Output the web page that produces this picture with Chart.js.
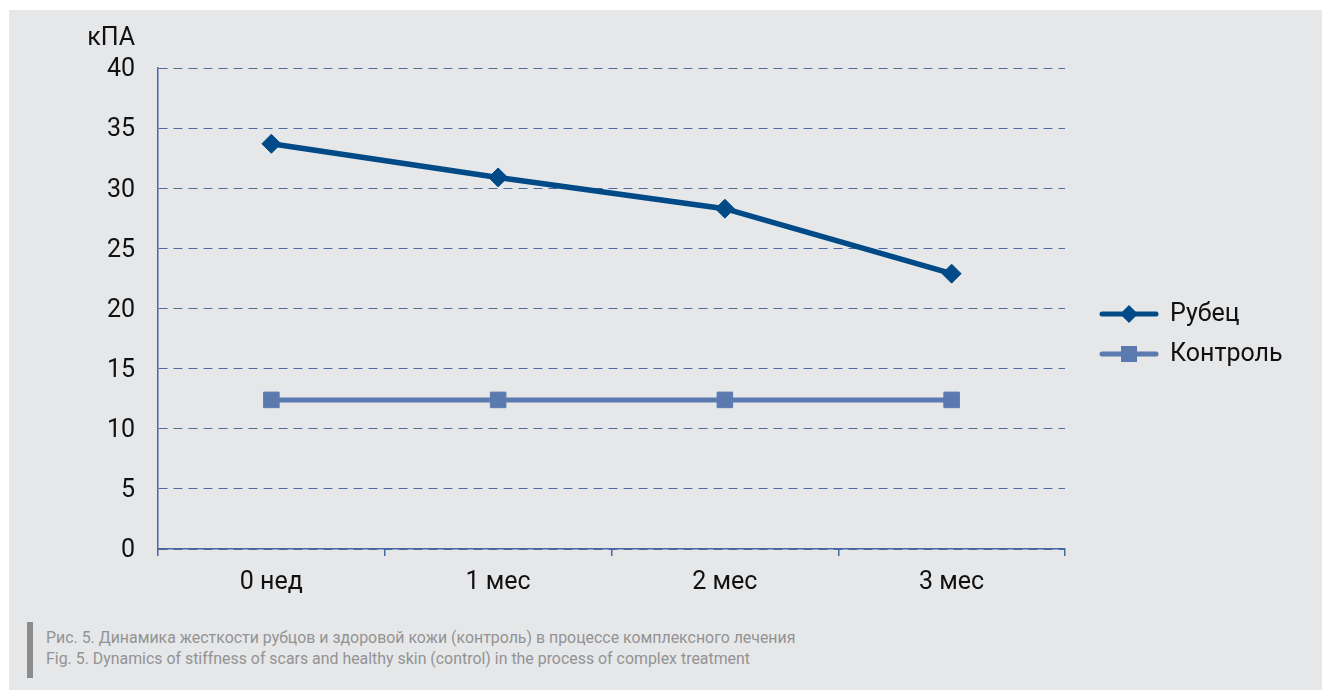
<!DOCTYPE html>
<html>
<head>
<meta charset="utf-8">
<script src="https://cdn.jsdelivr.net/npm/chart.js@4/dist/chart.umd.min.js"></script>
<style>
  html, body { margin: 0; padding: 0; background: #ffffff; width: 1322px; height: 690px; overflow: hidden; }
  #panel { position: absolute; left: 9px; top: 10px; width: 1313px; height: 680px; background: #e6e7e9; }
  #wrap { position: absolute; left: 0; top: 0; width: 1322px; height: 600px; }
  #bar { position: absolute; left: 27px; top: 622px; width: 6px; height: 56px; background: #8c8c8c; }
  #caption { position: absolute; left: 46px; top: 627px; transform: scaleX(0.935); transform-origin: 0 0;
    font-family: 'Roboto', sans-serif; font-size: 17px; line-height: 21px; color: #939393; white-space: nowrap; }
</style>
</head>
<body>
<div id="panel"></div>
<div id="wrap"><canvas id="c" width="1322" height="600"></canvas></div>
<div id="bar"></div>
<div id="caption">
  <div>Рис. 5. Динамика жесткости рубцов и здоровой кожи (контроль) в процессе комплексного лечения</div>
  <div>Fig. 5. Dynamics of stiffness of scars and healthy skin (control) in the process of complex treatment</div>
</div>
<script>
const categories = ['0 нед', '1 мес', '2 мес', '3 мес'];
const scarValues = [33.7, 30.9, 28.3, 22.9];
const controlValues = [12.4, 12.4, 12.4, 12.4];
const seriesNames = ['Рубец', 'Контроль'];
const yUnit = 'кПА';
const yMin = 0, yMax = 40, yStep = 5;

const FONT = "'Roboto', sans-serif";
const AXIS = '#4a67a5';

const extras = {
  id: 'extras',
  afterDraw(chart) {
    const ctx = chart.ctx;
    ctx.save();
    ctx.font = '25px ' + FONT;
    ctx.fillStyle = '#111111';
    ctx.textAlign = 'right';
    ctx.textBaseline = 'middle';
    ctx.fillText(yUnit, 135, 39);
    const rows = [314, 354];
    chart.data.datasets.forEach((ds, i) => {
      const y = rows[i];
      ctx.strokeStyle = ds.borderColor;
      ctx.lineWidth = 5;
      ctx.lineCap = 'round';
      ctx.setLineDash([]);
      ctx.beginPath();
      ctx.moveTo(1102, y);
      ctx.lineTo(1156, y);
      ctx.stroke();
      ctx.fillStyle = ds.pointBackgroundColor;
      ctx.beginPath();
      if (ds.pointStyle === 'rectRot') {
        const r = 9;
        ctx.moveTo(1129, y - r); ctx.lineTo(1129 + r, y); ctx.lineTo(1129, y + r); ctx.lineTo(1129 - r, y);
      } else {
        ctx.rect(1121, y - 8, 16, 16);
      }
      ctx.closePath();
      ctx.fill();
      ctx.fillStyle = '#111111';
      ctx.textAlign = 'left';
      ctx.font = '25px ' + FONT;
      ctx.fillText(ds.label, 1170, y + 1);
    });
    ctx.restore();
  }
};

new Chart(document.getElementById('c'), {
  type: 'line',
  data: {
    labels: categories,
    datasets: [
      {
        label: seriesNames[0], data: scarValues,
        borderColor: '#004a87', backgroundColor: '#004a87',
        pointBackgroundColor: '#004a87', pointBorderColor: '#004a87',
        borderWidth: 5.5, pointStyle: 'rectRot', pointRadius: 9.5, pointBorderWidth: 1,
        tension: 0, fill: false
      },
      {
        label: seriesNames[1], data: controlValues,
        borderColor: '#5b7bb0', backgroundColor: '#5b7bb0',
        pointBackgroundColor: '#5b7bb0', pointBorderColor: '#5b7bb0',
        borderWidth: 5, pointStyle: 'rect', pointRadius: 11, pointBorderWidth: 1,
        tension: 0, fill: false
      }
    ]
  },
  options: {
    responsive: false,
    animation: false,
    layout: { padding: { left: 0, right: 257, top: 68, bottom: 0 } },
    plugins: { legend: { display: false }, tooltip: { enabled: false } },
    scales: {
      x: {
        offset: true,
        grid: { display: true, offset: true, drawOnChartArea: false, drawTicks: true, tickLength: 7, color: AXIS, lineWidth: 1.5 },
        border: { display: true, color: AXIS, width: 1.5 },
        ticks: { color: '#111111', font: { family: FONT, size: 25 }, padding: 12, maxRotation: 0 },
        afterFit(scale) { scale.height = 51; }
      },
      y: {
        min: yMin, max: yMax,
        grid: { color: '#4e6aa3', lineWidth: 1, drawTicks: false },
        border: { display: true, color: AXIS, width: 1.5, dash: [9, 6] },
        ticks: { stepSize: yStep, color: '#111111', font: { family: FONT, size: 25 }, padding: 23, labelOffset: 2 },
        afterFit(scale) { scale.width = 158; }
      }
    }
  },
  plugins: [extras]
});
</script>
</body>
</html>
